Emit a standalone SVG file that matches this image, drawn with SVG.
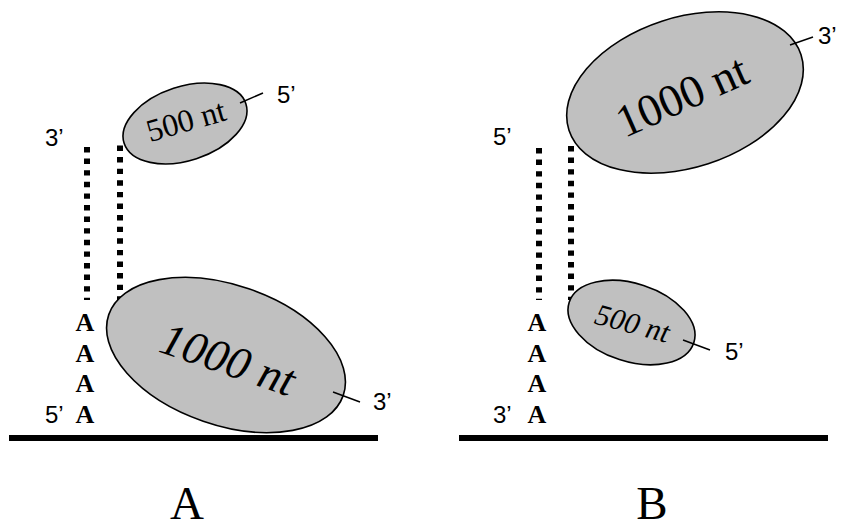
<svg xmlns="http://www.w3.org/2000/svg" width="842" height="530" viewBox="0 0 842 530">
  <style>
    .blob { fill: #c0c0c0; stroke: #000; stroke-width: 1.6; }
    .tick { stroke: #000; stroke-width: 1.5; fill: none; }
    .dots { stroke: #000; stroke-width: 6; stroke-dasharray: 5.4 6.2; fill: none; }
    .base { stroke: #000; stroke-width: 6; }
    .end { font-family: "Liberation Sans", Arial, sans-serif; font-size: 24px; fill: #000; }
    .polyA { font-family: "Liberation Serif", "Times New Roman", serif; font-size: 26px; font-weight: bold; fill: #000; text-anchor: middle; }
    .nt { font-family: "Liberation Serif", "Times New Roman", serif; fill: #000; text-anchor: middle; }
    .panel { font-family: "Liberation Serif", "Times New Roman", serif; font-size: 47px; fill: #000; text-anchor: middle; }
  </style>

  <g id="connectors">
    <line class="dots" x1="87" y1="147" x2="87" y2="300"/>
    <line class="dots" x1="120" y1="145.5" x2="120" y2="301"/>
    <line class="dots" x1="539" y1="148" x2="539" y2="300"/>
    <line class="dots" x1="571" y1="146" x2="571" y2="300"/>
  </g>

  <g id="panelA">
    <line class="base" x1="9" y1="438" x2="378" y2="438"/>
    <g id="A-polyA">
      <text class="end" x="45" y="146">3’</text>
      <text class="polyA" x="85" y="331">A</text>
      <text class="polyA" x="85" y="361.5">A</text>
      <text class="polyA" x="85" y="392">A</text>
      <text class="polyA" x="85" y="423">A</text>
      <text class="end" x="45" y="423">5’</text>
    </g>
    <g id="A-500nt">
      <ellipse class="blob" cx="185" cy="123.5" rx="64" ry="37" transform="rotate(-18 185 123.5)"/>
      <text class="nt" x="189" y="131" font-size="32" transform="rotate(-16 189 131)">500 nt</text>
      <line class="tick" x1="240" y1="103" x2="263" y2="93"/>
      <text class="end" x="277" y="103">5’</text>
    </g>
    <g id="A-1000nt">
      <ellipse class="blob" cx="226" cy="355" rx="124" ry="70" transform="rotate(19 226 355)"/>
      <text class="nt" x="223" y="374" font-size="46" font-style="italic" transform="rotate(19 223 374)">1000 nt</text>
      <line class="tick" x1="333" y1="392" x2="360" y2="402"/>
      <text class="end" x="373" y="410">3’</text>
    </g>
    <text class="panel" x="187" y="519">A</text>
  </g>

  <g id="panelB">
    <line class="base" x1="459" y1="438" x2="828" y2="438"/>
    <g id="B-polyA">
      <text class="end" x="493" y="145">5’</text>
      <text class="polyA" x="537" y="331">A</text>
      <text class="polyA" x="537" y="361.5">A</text>
      <text class="polyA" x="537" y="392">A</text>
      <text class="polyA" x="537" y="423">A</text>
      <text class="end" x="493" y="423">3’</text>
    </g>
    <g id="B-1000nt">
      <ellipse class="blob" cx="685" cy="92.5" rx="122" ry="75" transform="rotate(-18 685 92.5)"/>
      <text class="nt" x="688" y="110" font-size="46" transform="rotate(-24 688 110)">1000 nt</text>
      <line class="tick" x1="790" y1="45" x2="813" y2="37"/>
      <text class="end" x="818" y="44">3’</text>
    </g>
    <g id="B-500nt">
      <ellipse class="blob" cx="631.5" cy="322.5" rx="65.5" ry="39" transform="rotate(18 631.5 322.5)"/>
      <text class="nt" x="630" y="333" font-size="30" font-style="italic" transform="rotate(15 630 333)">500 nt</text>
      <line class="tick" x1="683" y1="340" x2="710" y2="350"/>
      <text class="end" x="725" y="360">5’</text>
    </g>
    <text class="panel" x="652" y="519">B</text>
  </g>
</svg>
